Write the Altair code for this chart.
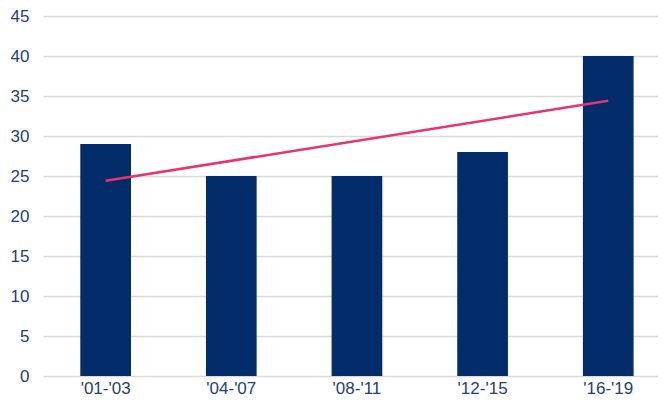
import altair as alt
import pandas as pd

categories = ["'01-'03", "'04-'07", "'08-'11", "'12-'15", "'16-'19"]
values = [29, 25, 25, 28, 40]
trend_categories = ["'01-'03", "'16-'19"]
trend_values = [24.4, 34.4]
y_ticks = [0, 5, 10, 15, 20, 25, 30, 35, 40, 45]

bars_df = pd.DataFrame({"period": categories, "value": values})
trend_df = pd.DataFrame({"period": trend_categories, "value": trend_values})

text_color = "#203f78"

x_enc = alt.X(
    "period:N",
    sort=categories,
    title=None,
    scale=alt.Scale(domain=categories, paddingInner=0.5965, paddingOuter=0.2455, align=0.6045),
    axis=alt.Axis(labelAngle=0, ticks=False, domain=False, labelPadding=4, grid=False),
)
y_enc = alt.Y(
    "value:Q",
    title=None,
    scale=alt.Scale(domain=[0, 45], nice=False, zero=True),
    axis=alt.Axis(values=y_ticks, ticks=False, domain=False, labelPadding=14,
                  labelOverlap=False, grid=True),
)

bars = alt.Chart(bars_df).mark_bar(color="#022d6a").encode(x=x_enc, y=y_enc)
trend = alt.Chart(trend_df).mark_line(color="#e8336b", strokeWidth=2.5).encode(
    x=x_enc, y=y_enc
)

chart = (
    alt.layer(bars, trend)
    .properties(
        width=615,
        height=360,
        autosize=alt.AutoSizeParams(type="none"),
        padding={"left": 35, "top": 8, "right": 0, "bottom": 22},
        background="white",
    )
    .configure_view(stroke=None)
    .configure_axis(
        labelFontSize=17,
        labelColor=text_color,
        labelFont="Liberation Sans",
        gridColor="#d9d9d9",
        gridWidth=1.5,
    )
)

chart.save("out.html", embed_options={"renderer": "svg", "actions": False})
